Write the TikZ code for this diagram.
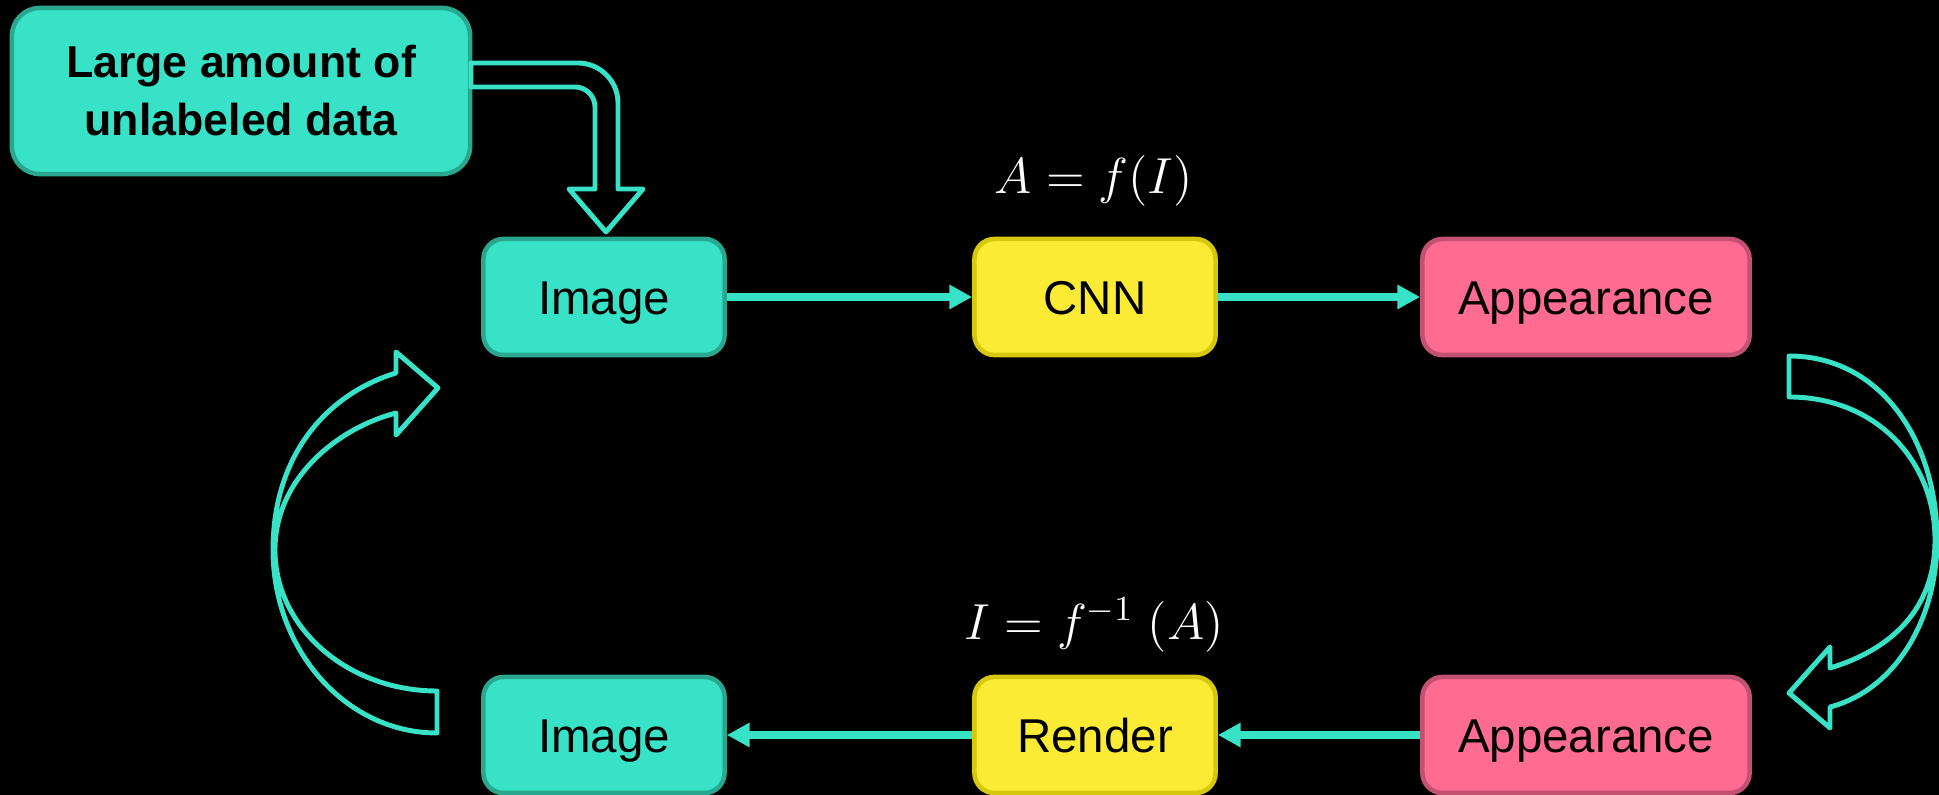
\documentclass[tikz,border=0pt]{standalone}
\usepackage{fontspec}
\setmainfont{Liberation Sans}
\usetikzlibrary{arrows.meta}

\definecolor{aqua}{HTML}{38E2C7}
\definecolor{aquadark}{HTML}{2AA88F}
\definecolor{lemon}{HTML}{FBEB35}
\definecolor{lemondark}{HTML}{D6C80C}
\definecolor{rose}{HTML}{FF6B91}
\definecolor{rosedark}{HTML}{C25172}

\begin{document}
\begin{tikzpicture}[x=0.01cm, y=-0.01cm,
            block/.style={draw, line width=1.3pt, rounded corners=0.2cm, inner sep=0pt,
                    minimum width=2.41cm, minimum height=1.16cm, text=black,
                    text height=9.7pt, text depth=0pt,
                    font=\fontsize{13.5}{16}\selectfont},
            imgblock/.style={block, fill=aqua, draw=aquadark},
            netblock/.style={block, fill=lemon, draw=lemondark},
            lookblock/.style={block, fill=rose, draw=rosedark, minimum width=3.27cm},
            flow/.style={aqua, line width=2.3pt, -{Triangle[length=6.5pt,width=6.6pt]}},
            hollow/.style={draw=aqua, line width=1.4pt, line join=round},
            formula/.style={text=white, font=\fontsize{14}{17}\selectfont}
        ]

        \useasboundingbox[fill=black] (0,0) rectangle (1939,795);

        % Source of the images
        \node[imgblock, rounded corners=0.28cm, minimum width=4.58cm, minimum height=1.66cm,
            text height=, text depth=, align=center,
            font=\fontsize{12.7}{16.5}\selectfont\bfseries]
            (data) at (241,91) {\rule{0pt}{1.2ex}Large amount of\\unlabeled data};

        % Upper row: image to appearance
        \node[imgblock] (img1) at (604,297) {Image};
        \node[netblock] (cnn) at (1095,297) {CNN};
        \node[lookblock] (look1) at (1586,297) {Appearance};
        \node[formula] (fwd) at (1094,181) {$A = f(I)$};

        % Lower row: appearance back to image
        \node[imgblock] (img2) at (604,735) {Image};
        \node[netblock] (render) at (1095,735) {Render};
        \node[lookblock] (look2) at (1586,735) {Appearance};
        \node[formula] (inv) at (1094,625) {$I = f^{-1}\;(A)$};

        \draw[flow] (img1) -- (cnn);
        \draw[flow] (cnn) -- (look1);
        \draw[flow] (look2) -- (render);
        \draw[flow] (render) -- (img2);

        % Bent arrow from the data into the first image
        \draw[hollow] (471,63) -- (578,63) .. controls (600,63) and (618,81) .. (618,103)
            -- (618,189) -- (643,189) -- (606,232) -- (569,189) -- (595,189) -- (595,107)
            .. controls (595,96) and (586,87) .. (575,87) -- (471,87) -- cycle;

        % Curved arrow on the right, top row down to bottom row
        \draw[hollow] (1789,356) .. controls (1880,356) and (1937,440) .. (1937,540)
            .. controls (1937,620) and (1895,690) .. (1830,707) -- (1830,728) -- (1789,693)
            -- (1830,647) -- (1830,668) .. controls (1890,650) and (1935,610) .. (1935,540)
            .. controls (1935,460) and (1875,397) .. (1789,397) -- cycle;

        % Curved arrow on the left, bottom row back up to top row
        \draw[hollow] (437,733) .. controls (346,733) and (273,650) .. (273,550)
            .. controls (273,452) and (330,393) .. (396,373) -- (396,352) -- (438,388)
            -- (396,435) -- (396,413) .. controls (338,428) and (275,478) .. (275,550)
            .. controls (275,628) and (348,691) .. (437,691) -- cycle;
    \end{tikzpicture}
\end{document}
